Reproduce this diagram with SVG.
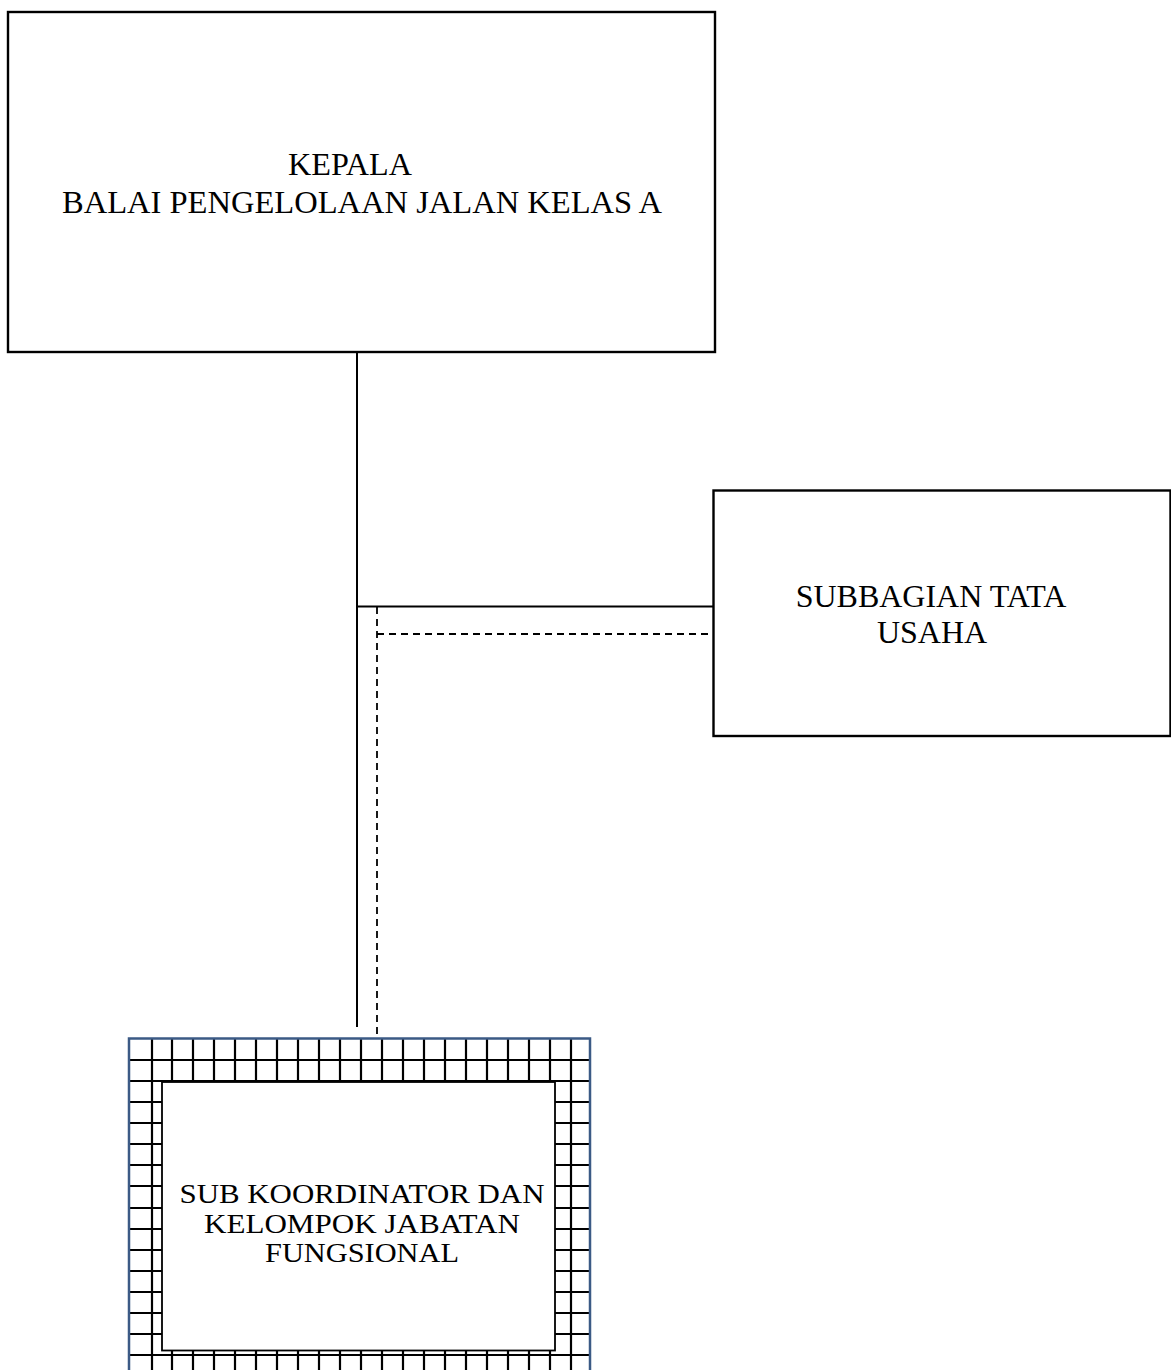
<svg xmlns="http://www.w3.org/2000/svg" width="1171" height="1370" viewBox="0 0 1171 1370">
<style>
.box{fill:#fff;stroke:#000;stroke-width:2.4}
.t{font-family:"Liberation Serif","Times New Roman",serif;fill:#000;text-anchor:middle}
.solid{stroke:#000;stroke-width:2;fill:none}
.dash{stroke:#000;stroke-width:1.8;fill:none;stroke-dasharray:7 5}
.grid{stroke:#000;stroke-width:2.2;fill:none}
</style>
<rect width="1171" height="1370" fill="#fff"/>
<g id="connectors">
<line class="solid" x1="357" y1="352" x2="357" y2="1027"/>
<line class="solid" x1="357" y1="606.5" x2="713" y2="606.5" stroke="#333"/>
<line class="dash" x1="377" y1="607" x2="377" y2="1038"/>
<line class="dash" x1="377" y1="634" x2="713" y2="634"/>
</g>
<g id="kepala">
<rect class="box" x="8" y="12" width="707" height="340"/>
<text class="t" x="350" y="175" font-size="31" textLength="124" lengthAdjust="spacingAndGlyphs">KEPALA</text>
<text class="t" x="362" y="213" font-size="31" textLength="600" lengthAdjust="spacingAndGlyphs">BALAI PENGELOLAAN JALAN KELAS A</text>
</g>
<g id="subbagian">
<rect class="box" x="713.5" y="490.5" width="457" height="245.5"/>
<text class="t" x="931" y="607" font-size="32">SUBBAGIAN TATA</text>
<text class="t" x="932" y="643" font-size="32">USAHA</text>
</g>
<g id="subkoordinator">
<rect x="129" y="1038" width="461" height="340" fill="#fff"/>
<path class="grid" d="M152 1038V1370M172 1038V1370M193 1038V1370M214 1038V1370M235 1038V1370M256 1038V1370M277 1038V1370M298 1038V1370M319 1038V1370M340 1038V1370M361 1038V1370M382 1038V1370M403 1038V1370M424 1038V1370M445 1038V1370M466 1038V1370M487 1038V1370M508 1038V1370M529 1038V1370M550 1038V1370M571 1038V1370M129 1060H590M129 1081H590M129 1102H590M129 1123H590M129 1144H590M129 1165H590M129 1186H590M129 1208H590M129 1229H590M129 1250H590M129 1271H590M129 1292H590M129 1313H590M129 1334H590M129 1355H590"/>
<rect x="129" y="1038.5" width="461" height="345" fill="none" stroke="#3b5a85" stroke-width="2.5"/>
<rect x="162" y="1082" width="393" height="268.5" fill="#fff" stroke="#000" stroke-width="1.8"/>
<text class="t" x="362" y="1203" font-size="28" textLength="365" lengthAdjust="spacingAndGlyphs">SUB KOORDINATOR DAN</text>
<text class="t" x="362" y="1233" font-size="28" textLength="316" lengthAdjust="spacingAndGlyphs">KELOMPOK JABATAN</text>
<text class="t" x="362" y="1262" font-size="28" textLength="194" lengthAdjust="spacingAndGlyphs">FUNGSIONAL</text>
</g>
</svg>
